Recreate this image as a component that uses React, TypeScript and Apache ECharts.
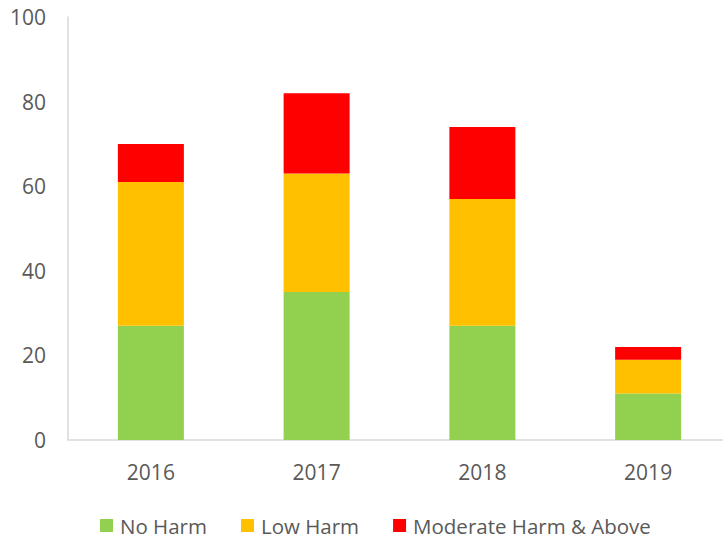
import React, { useEffect, useRef } from "react";
import * as echarts from "echarts";

const categories = ["2016", "2017", "2018", "2019"];
const noHarm = [27, 35, 27, 11];
const lowHarm = [34, 28, 30, 8];
const moderateAbove = [9, 19, 17, 3];
const seriesNames = ["No Harm", "Low Harm", "Moderate Harm & Above"];
const colors = ["#92d050", "#ffc000", "#ff0000"];

export default function App() {
  const ref = useRef<HTMLDivElement>(null);
  useEffect(() => {
    if (!ref.current) return;
    const chart = echarts.init(ref.current, null, { renderer: "svg" });
    const font = "'Open Sans', 'Noto Sans', sans-serif";
    const data = [noHarm, lowHarm, moderateAbove];
    chart.setOption({
      animation: false,
      textStyle: { fontFamily: font },
      grid: {
        left: 68,
        width: 663,
        top: 17,
        height: 423,
        containLabel: false,
        outerBoundsMode: "none",
      },
      legend: {
        top: 515,
        left: 100,
        padding: 0,
        itemWidth: 13,
        itemHeight: 13,
        itemGap: 34,
        icon: "rect",
        textStyle: { color: "#595959", fontSize: 20.5, fontFamily: font, padding: [0, 0, 0, 2] },
        data: seriesNames,
      },
      xAxis: {
        type: "category",
        data: categories,
        axisLine: { show: true, lineStyle: { color: "#d9d9d9", width: 1.5 } },
        axisTick: { show: false },
        axisLabel: { color: "#595959", fontSize: 21, fontFamily: font, margin: 21 },
      },
      yAxis: {
        type: "value",
        min: 0,
        max: 100,
        interval: 20,
        axisLine: { show: true, lineStyle: { color: "#d9d9d9", width: 1.5 } },
        axisTick: { show: false },
        splitLine: { show: false },
        axisLabel: { color: "#595959", fontSize: 21, fontFamily: font, margin: 22 },
      },
      series: seriesNames.map((name, i) => ({
        name,
        type: "bar",
        stack: "total",
        barWidth: 66,
        itemStyle: { color: colors[i] },
        data: data[i],
      })),
    });
    return () => chart.dispose();
  }, []);
  return <div ref={ref} style={{ width: 723, height: 538, position: "absolute", left: 0, top: 0 }} />;
}
